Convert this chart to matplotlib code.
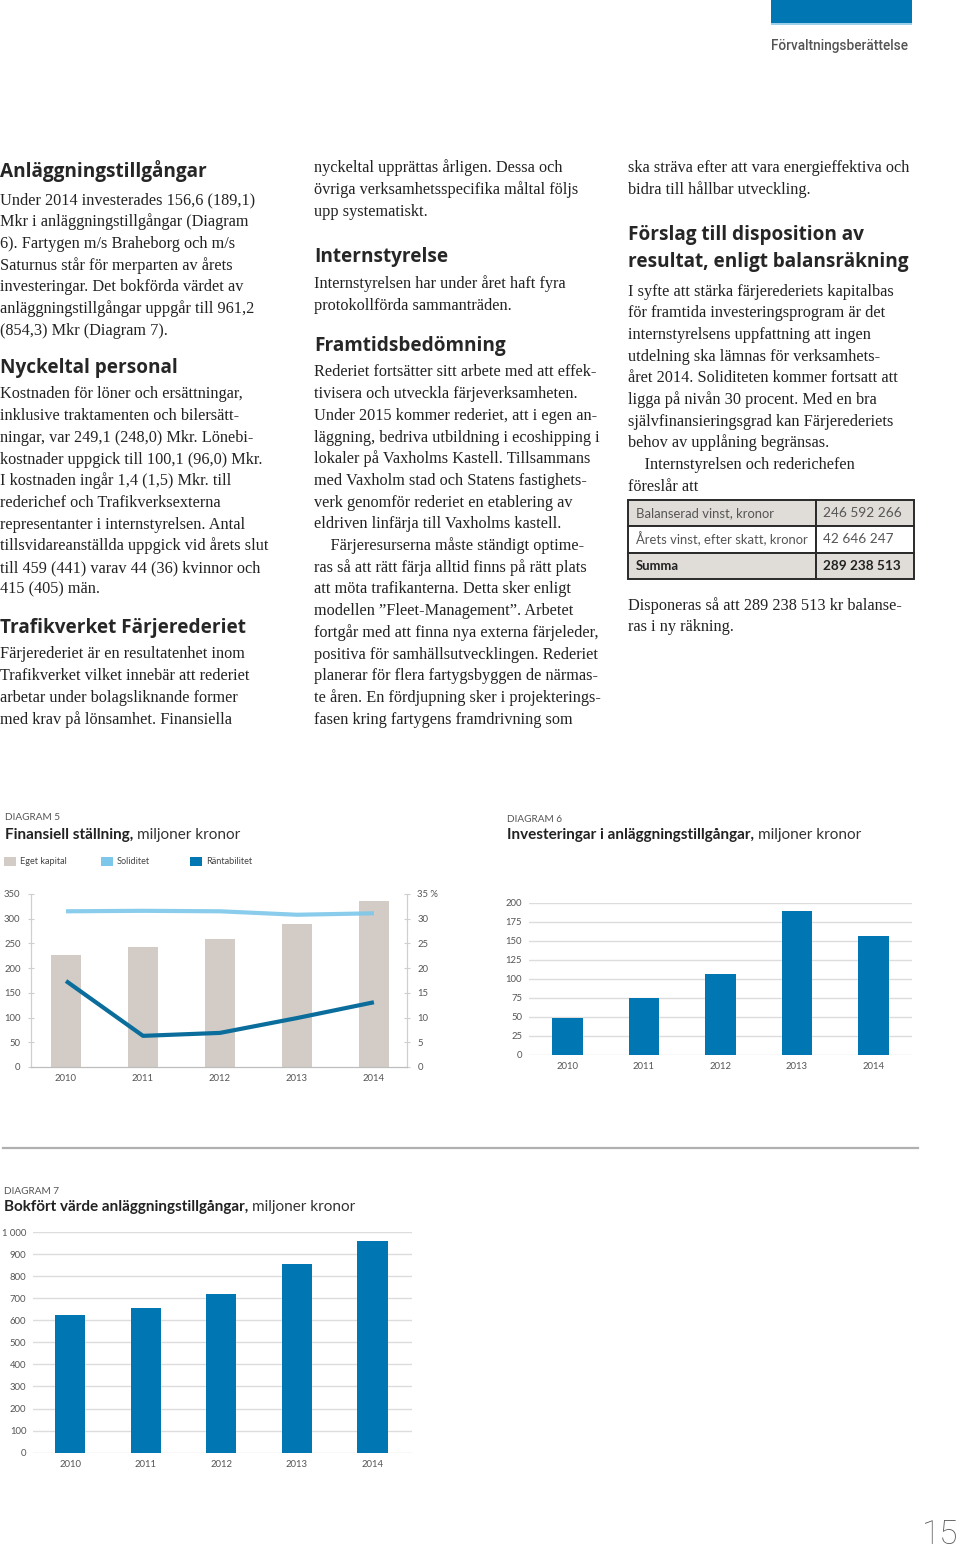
import matplotlib
matplotlib.use("Agg")
import matplotlib.pyplot as plt
from matplotlib.patches import Rectangle
import numpy as np

# --- data -----------------------------------------------------------------
years = ["2010", "2011", "2012", "2013", "2014"]
eget_kapital = [226, 242, 259, 289, 336]          # mkr, left axis
soliditet = [31.5, 31.6, 31.5, 30.8, 31.1]        # %, right axis
rantabilitet = [17.4, 6.3, 6.9, 9.9, 13.1]        # %, right axis
investeringar = [47.8, 75.0, 106.6, 189.1, 156.6]
bokfort_varde = [625, 654, 720, 854.3, 961.2]

tabell_rader = ["Balanserad vinst, kronor", "Årets vinst, efter skatt, kronor", "Summa"]
tabell_belopp = ["246 592 266", "42 646 247", "289 238 513"]

# --- text -----------------------------------------------------------------
kol1_a = ["Under 2014 investerades 156,6 (189,1)",
          "Mkr i anläggningstillgångar (Diagram",
          "6). Fartygen m/s Braheborg och m/s",
          "Saturnus står för merparten av årets",
          "investeringar. Det bokförda värdet av",
          "anläggningstillgångar uppgår till 961,2",
          "(854,3) Mkr (Diagram 7)."]
kol1_b = ["Kostnaden för löner och ersättningar,",
          "inklusive traktamenten och bilersätt-",
          "ningar, var 249,1 (248,0) Mkr. Lönebi-",
          "kostnader uppgick till 100,1 (96,0) Mkr.",
          "I kostnaden ingår 1,4 (1,5) Mkr. till",
          "rederichef och Trafikverksexterna",
          "representanter i internstyrelsen. Antal",
          "tillsvidareanställda uppgick vid årets slut",
          "till 459 (441) varav 44 (36) kvinnor och",
          "415 (405) män."]
kol1_c = ["Färjerederiet är en resultatenhet inom",
          "Trafikverket vilket innebär att rederiet",
          "arbetar under bolagsliknande former",
          "med krav på lönsamhet. Finansiella"]
kol2_a = ["nyckeltal upprättas årligen. Dessa och",
          "övriga verksamhetsspecifika måltal följs",
          "upp systematiskt."]
kol2_b = ["Internstyrelsen har under året haft fyra",
          "protokollförda sammanträden."]
kol2_c = ["Rederiet fortsätter sitt arbete med att effek-",
          "tivisera och utveckla färjeverksamheten.",
          "Under 2015 kommer rederiet, att i egen an-",
          "läggning, bedriva utbildning i ecoshipping i",
          "lokaler på Vaxholms Kastell. Tillsammans",
          "med Vaxholm stad och Statens fastighets-",
          "verk genomför rederiet en etablering av",
          "eldriven linfärja till Vaxholms kastell.",
          "    Färjeresurserna måste ständigt optime-",
          "ras så att rätt färja alltid finns på rätt plats",
          "att möta trafikanterna. Detta sker enligt",
          "modellen ”Fleet-Management”. Arbetet",
          "fortgår med att finna nya externa färjeleder,",
          "positiva för samhällsutvecklingen. Rederiet",
          "planerar för flera fartygsbyggen de närmas-",
          "te åren. En fördjupning sker i projekterings-",
          "fasen kring fartygens framdrivning som"]
kol3_a = ["ska sträva efter att vara energieffektiva och",
          "bidra till hållbar utveckling."]
kol3_b = ["I syfte att stärka färjerederiets kapitalbas",
          "för framtida investeringsprogram är det",
          "internstyrelsens uppfattning att ingen",
          "utdelning ska lämnas för verksamhets-",
          "året 2014. Soliditeten kommer fortsatt att",
          "ligga på nivån 30 procent. Med en bra",
          "självfinansieringsgrad kan Färjerederiets",
          "behov av upplåning begränsas.",
          "    Internstyrelsen och rederichefen",
          "föreslår att"]
kol3_c = ["Disponeras så att 289 238 513 kr balanse-",
          "ras i ny räkning."]

BLUE = "#0077B3"
DARK_BLUE = "#0A6D9B"
LIGHT_BLUE = "#7DC7EA"
WARM_GRAY = "#D3CCC6"
GRID = "#DCDCDC"
TXT = "#222222"
SANS = "Lato"
SERIF = "Liberation Serif"

W, H = 960, 1550
fig = plt.figure(figsize=(9.6, 15.5), dpi=100)
fig.patch.set_facecolor("white")


def fx(x):
    return x / W


def fy(y):
    return 1 - y / H


def body(x, y0, lines, pitch=21.7):
    for i, s in enumerate(lines):
        fig.text(fx(x), fy(y0 + i * pitch + 4.5), s, family=SERIF, fontsize=11.7,
                 color=TXT, va="baseline", ha="left")


def heading(x, y, s):
    fig.text(fx(x), fy(y + 6), s, family="Open Sans", fontweight="bold",
             fontsize=13.7, color="#262626", va="baseline", ha="left")


def axes_px(left, top, right, bottom):
    return fig.add_axes([left / W, 1 - bottom / H, (right - left) / W, (bottom - top) / H])


def chart_title(x, y_small, y_big, nr, bold, regular):
    fig.text(fx(x), fy(y_small), nr, family=SANS, fontsize=7.2, color="#555555",
             va="center")
    t = fig.text(fx(x), fy(y_big), bold, family=SANS, fontweight="bold", fontsize=11,
                 color="#222222", va="center")
    bb = t.get_window_extent(renderer=fig.canvas.get_renderer())
    fig.text(fx(bb.x1 + 4), fy(y_big), regular, family=SANS, fontsize=11,
             color="#333333", va="center")


# --- header ---------------------------------------------------------------
fig.add_artist(Rectangle((fx(771), fy(23)), (912 - 771) / W, 23 / H,
                         transform=fig.transFigure, color=BLUE, lw=0))
fig.add_artist(Rectangle((fx(771), fy(25)), (912 - 771) / W, 2 / H,
                         transform=fig.transFigure, color="#9CCFEA", lw=0))
fig.text(fx(908), fy(46), "Förvaltningsberättelse", family="Roboto", fontweight="medium",
         fontsize=9.8, color="#555555", ha="right", va="center")

# --- text columns ---------------------------------------------------------
heading(0, 171, "Anläggningstillgångar")
body(0, 200, kol1_a)
heading(0, 367, "Nyckeltal personal")
body(0, 394, kol1_b)
heading(0, 627, "Trafikverket Färjerederiet")
body(0, 654, kol1_c)

body(314, 168, kol2_a)
heading(314, 256, "Internstyrelse")
body(314, 284, kol2_b)
heading(314, 345, "Framtidsbedömning")
body(314, 372, kol2_c)

body(628, 168, kol3_a)
heading(628, 234, "Förslag till disposition av")
heading(628, 261, "resultat, enligt balansräkning")
body(628, 291, kol3_b)
body(628, 605, kol3_c)

# table
rad_y = [499.5, 526, 552.5, 579]
fyll = ["#E0DCD8", "white", "#E0DCD8"]
for i, (namn, belopp) in enumerate(zip(tabell_rader, tabell_belopp)):
    top, bot = rad_y[i], rad_y[i + 1]
    for x0, x1 in [(628, 815.5), (815.5, 913.5)]:
        fig.add_artist(Rectangle((fx(x0), fy(bot)), (x1 - x0) / W, (bot - top) / H,
                                 transform=fig.transFigure, facecolor=fyll[i],
                                 edgecolor="#2a2a2a", lw=1.4))
    vikt = "bold" if namn == "Summa" else "normal"
    farg = "#222222" if namn == "Summa" else "#555555"
    yc = (top + bot) / 2
    fig.text(fx(636), fy(yc), namn, family=SANS, fontsize=9.4, fontweight=vikt,
             color=farg, va="center")
    fig.text(fx(823), fy(yc), belopp, family=SANS, fontsize=9.8, fontweight=vikt,
             color=farg, va="center")

# --- diagram 5 ------------------------------------------------------------
chart_title(5, 818, 835, "DIAGRAM 5", "Finansiell ställning,", "miljoner kronor")
legend = [("Eget kapital", WARM_GRAY, 4), ("Soliditet", LIGHT_BLUE, 101),
          ("Räntabilitet", BLUE, 190)]
for namn, farg, x0 in legend:
    fig.add_artist(Rectangle((fx(x0), fy(866)), 12 / W, 9.5 / H,
                             transform=fig.transFigure, color=farg, lw=0))
    fig.text(fx(x0 + 16), fy(861.5), namn, family=SANS, fontsize=6.6, color="#444444",
             va="center")

x = np.arange(len(years))
ax5 = axes_px(31, 894, 407, 1067)
ax5.bar(x, eget_kapital, width=0.40, color=WARM_GRAY, zorder=1)
ax5.set_xlim(-0.455, 4.43)
ax5.set_ylim(0, 350)
ax5.set_yticks(range(0, 351, 50))
ax5.set_xticks(x)
ax5.set_xticklabels(years)
ax5r = ax5.twinx()
ax5r.plot(x, soliditet, color=LIGHT_BLUE, lw=3.0, alpha=0.9, solid_capstyle="butt")
ax5r.plot(x, rantabilitet, color=DARK_BLUE, lw=3.0, solid_capstyle="butt")
ax5r.set_ylim(0, 35)
ax5r.set_yticks(range(0, 36, 5))
ax5r.set_yticklabels([str(v) for v in range(0, 31, 5)] + ["35 %"])
for a in (ax5, ax5r):
    a.spines["top"].set_visible(False)
    a.spines["left"].set_color("#CFCFCF")
    a.spines["right"].set_color("#CFCFCF")
    a.spines["bottom"].set_color("#BDBDBD")
    a.tick_params(axis="y", direction="inout", length=5, color="#CFCFCF",
                  labelsize=6.8, labelcolor="#555555", pad=5)
    a.tick_params(axis="x", length=0, labelsize=6.8, labelcolor="#555555", pad=5)
    for lab in a.get_yticklabels() + a.get_xticklabels():
        lab.set_family(SANS)
ax5.patch.set_visible(False)

# --- diagram 6 ------------------------------------------------------------
chart_title(507, 819, 835, "DIAGRAM 6", "Investeringar i anläggningstillgångar,",
            "miljoner kronor")
ax6 = axes_px(529, 902.7, 911.7, 1054.7)
ax6.bar(x, investeringar, width=0.40, color=BLUE, zorder=2)
ax6.set_xlim(-0.5, 4.5)
ax6.set_ylim(0, 200)
ax6.set_yticks(range(0, 201, 25))

# --- diagram 7 ------------------------------------------------------------
fig.add_artist(plt.Line2D([fx(3), fx(918)], [fy(1148), fy(1148)], color="#B0B0B0",
                          lw=1.6, transform=fig.transFigure))
chart_title(4, 1191, 1207, "DIAGRAM 7", "Bokfört värde anläggningstillgångar,",
            "miljoner kronor")
ax7 = axes_px(33.3, 1232, 411.7, 1452.7)
ax7.bar(x, bokfort_varde, width=0.40, color=BLUE, zorder=2)
ax7.set_xlim(-0.49, 4.52)
ax7.set_ylim(0, 1000)
ax7.set_yticks(range(0, 1001, 100))
ax7.set_yticklabels([f"{v:,}".replace(",", " ") for v in range(0, 1001, 100)])

for a in (ax6, ax7):
    a.set_xticks(x)
    a.set_xticklabels(years)
    a.set_axisbelow(True)
    a.grid(axis="y", color=GRID, lw=1.0)
    for s in a.spines.values():
        s.set_visible(False)
    a.tick_params(length=0, labelsize=6.8, labelcolor="#555555", pad=5)
    for lab in a.get_yticklabels() + a.get_xticklabels():
        lab.set_family(SANS)

# page number
fig.text(fx(958), fy(1535), "15", family="Roboto", fontweight="light", fontsize=24,
         color="#5a5a5a", ha="right", va="center")

fig.savefig("out.png", dpi=100)
